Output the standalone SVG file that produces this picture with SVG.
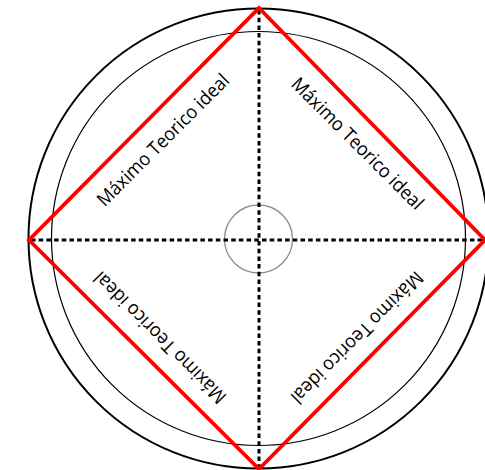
<svg xmlns="http://www.w3.org/2000/svg" width="485" height="470" viewBox="0 0 485 470">
  <style>
    .outer { fill: none; stroke: #000; stroke-width: 2; }
    .inner { fill: none; stroke: #000; stroke-width: 1.2; }
    .hub { fill: none; stroke: #8c8c8c; stroke-width: 1.3; }
    .axis { stroke: #000; stroke-width: 3; stroke-dasharray: 4.5 3.2; fill: none; }
    .diamond { fill: none; stroke: #ff0000; stroke-width: 3.8; stroke-linejoin: miter; }
    .lbl { font-family: "Open Sans", "Noto Sans", "Liberation Sans", sans-serif; font-size: 19px; fill: #000; text-anchor: middle; }
  </style>
  <rect width="485" height="470" fill="#fff"/>
  <g id="outer-circle"><circle class="outer" cx="258.5" cy="238.5" r="230"/></g>
  <g id="inner-circle"><circle class="inner" cx="258.5" cy="238.5" r="207"/></g>
  <g id="hub"><circle class="hub" cx="258.5" cy="239" r="34"/></g>
  <g id="connectors">
    <line class="axis" x1="31" y1="240" x2="485" y2="240"/>
    <line class="axis" x1="259" y1="10" x2="259" y2="468"/>
  </g>
  <g id="diamond"><polygon class="diamond" points="259,8 485,240 259,469 29,240"/></g>
  <g id="label-tl"><text class="lbl" x="261" y="108" textLength="178" lengthAdjust="spacingAndGlyphs" transform="rotate(-45 258.5 239)">Máximo Teorico ideal</text></g>
  <g id="label-tr"><text class="lbl" x="261" y="108" textLength="178" lengthAdjust="spacingAndGlyphs" transform="rotate(45 258.5 239)">Máximo Teorico ideal</text></g>
  <g id="label-br"><text class="lbl" x="258.5" y="106" textLength="178" lengthAdjust="spacingAndGlyphs" transform="rotate(135 258.5 239)">Máximo Teorico ideal</text></g>
  <g id="label-bl"><text class="lbl" x="258.5" y="106" textLength="178" lengthAdjust="spacingAndGlyphs" transform="rotate(225 258.5 239)">Máximo Teorico ideal</text></g>
</svg>
